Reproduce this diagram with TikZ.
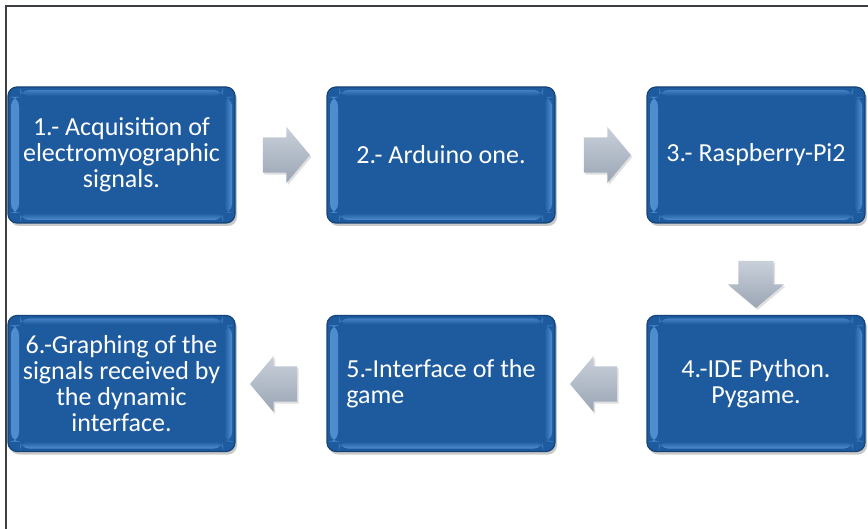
\documentclass[tikz,border=0pt]{standalone}
\usepackage{fontspec}
\setmainfont{Carlito}
\usetikzlibrary{shapes.arrows,shadows}
\definecolor{boxblue}{HTML}{1E5A9E}
\definecolor{boxedge}{HTML}{154478}
\definecolor{boxlight}{HTML}{4F8FD0}
\definecolor{arrowtop}{HTML}{C9D0DA}
\definecolor{arrowbot}{HTML}{9AA5B4}
\definecolor{framecol}{HTML}{3C3F44}
\tikzset{
  stepbox/.style={rounded corners=9pt, fill=boxblue, draw=boxedge, line width=1.2pt,
    minimum height=136pt, inner sep=4pt, text=white,
    font=\fontsize{26}{26}\selectfont,
    drop shadow={shadow xshift=2pt, shadow yshift=-3pt, opacity=.35, fill=black!60},
    path picture={
      \shade[left color=boxlight, right color=boxblue]
        ([xshift=3pt,yshift=10pt]path picture bounding box.south west) rectangle
        ([xshift=11pt,yshift=-10pt]path picture bounding box.north west);
      \shade[left color=boxblue, right color=boxlight]
        ([xshift=-11pt,yshift=10pt]path picture bounding box.south east) rectangle
        ([xshift=-3pt,yshift=-10pt]path picture bounding box.north east);
      \shade[top color=boxblue, bottom color=boxlight]
        ([xshift=12pt,yshift=3pt]path picture bounding box.south west) rectangle
        ([xshift=-12pt,yshift=10pt]path picture bounding box.south east);
      \shade[top color=boxlight!70!boxblue, bottom color=boxblue]
        ([xshift=12pt,yshift=-3pt]path picture bounding box.north west) rectangle
        ([xshift=-12pt,yshift=-9pt]path picture bounding box.north east);
    }},
  blockarrow/.style={single arrow, draw=none, top color=arrowtop, bottom color=arrowbot,
    inner xsep=0pt, inner ysep=17.5pt, minimum height=47pt,
    single arrow head extend=10.5pt, single arrow tip angle=100,
    drop shadow={shadow xshift=1.5pt, shadow yshift=-2pt, opacity=.25, fill=black!50}},
  framer/.style={draw=framecol, line width=2pt}
}
\begin{document}
\begin{tikzpicture}[x=1pt,y=-1pt]
\useasboundingbox (0,0) rectangle (868,529);
\fill[white] (0,0) rectangle (868,529);
\coordinate (fb) at (6,529);
\coordinate (fc) at (6,6);
\coordinate (fr) at (868,6);
\draw[framer] (fb) -- (fc) -- (fr);

\node[stepbox, minimum width=227pt, align=center] (b1) at (121.5,155)
  {1.- Acquisition of\\electromyographic\\signals.};
\node[stepbox, minimum width=228pt, align=center] (b2) at (441,155)
  {2.- Arduino one.};
\node[stepbox, minimum width=218pt, align=center] (b3) at (756,155)
  {3.- Raspberry-Pi2};
\node[stepbox, minimum width=218pt, align=center] (b4) at (756,383.5)
  {4.-IDE Python.\\Pygame.};
\node[stepbox, minimum width=228pt, align=left] (b5) at (441,383.5)
  {5.-Interface of the\\game};
\node[stepbox, minimum width=227pt, align=center] (b6) at (121.5,383.5)
  {6.-Graphing of the\\signals received by\\the dynamic\\interface.};

\node[blockarrow] (a12) at (279,155) {};
\node[blockarrow] (a23) at (600,155) {};
\node[blockarrow, rotate=-90] (a34) at (756,277) {};
\node[blockarrow, shape border rotate=180] (a45) at (601,384) {};
\node[blockarrow, shape border rotate=180] (a56) at (281,384) {};
\end{tikzpicture}
\end{document}
